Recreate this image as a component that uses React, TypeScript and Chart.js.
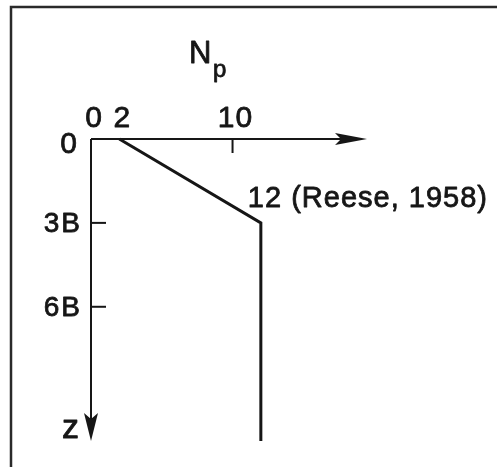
import React, { useEffect, useRef } from "react";
import { Chart, registerables } from "chart.js";

Chart.register(...registerables);

// ---- data ----
const npValues = [2, 12, 12];
const depthValues = [0, 3, 10.8];
const xTickValues = [0, 2, 10];
const xTickLabels = ["0", "2", "10"];
const xTickMarks = [10];
const zTickValues = [3, 6];
const zTickLabels = ["3B", "6B"];
const xAxisTitle = "N";
const xAxisSub = "p";
const zAxisTitle = "z";
const originLabel = "0";
const curveLabel = "12 (Reese, 1958)";
const curveLabelIndex = 1;

const INK = "#161616";
const FONT = "'Liberation Sans', Arial, sans-serif";

function heavyText(ctx: CanvasRenderingContext2D, text: string, x: number, y: number) {
  ctx.fillText(text, x, y);
  ctx.strokeText(text, x, y);
}

const diagramPlugin = {
  id: "diagram",
  beforeDraw(chart: any) {
    const ctx = chart.ctx;
    ctx.save();
    ctx.fillStyle = "#ffffff";
    ctx.fillRect(0, 0, chart.width, chart.height);
    // frame (top and left edges)
    ctx.strokeStyle = "#2a2a2a";
    ctx.lineWidth = 2.5;
    ctx.beginPath();
    ctx.moveTo(11, chart.height);
    ctx.lineTo(11, 7);
    ctx.lineTo(chart.width, 7);
    ctx.stroke();
    ctx.restore();
  },
  beforeDatasetsDraw(chart: any) {
    const ctx = chart.ctx;
    const xs = chart.scales.x;
    const ys = chart.scales.y;
    const x0 = xs.getPixelForValue(0);
    const y0 = ys.getPixelForValue(0);
    const xEnd = xs.getPixelForValue(xs.max);
    const yEnd = ys.getPixelForValue(ys.max);
    ctx.save();
    ctx.strokeStyle = INK;
    ctx.fillStyle = INK;
    ctx.lineWidth = 2;
    // horizontal axis
    ctx.beginPath();
    ctx.moveTo(x0, y0);
    ctx.lineTo(xEnd - 10, y0);
    ctx.stroke();
    ctx.beginPath();
    ctx.moveTo(xEnd, y0);
    ctx.lineTo(xEnd - 32, y0 - 6);
    ctx.lineTo(xEnd - 26, y0);
    ctx.lineTo(xEnd - 32, y0 + 6);
    ctx.closePath();
    ctx.fill();
    // vertical axis
    ctx.beginPath();
    ctx.moveTo(x0, y0);
    ctx.lineTo(x0, yEnd - 10);
    ctx.stroke();
    ctx.beginPath();
    ctx.moveTo(x0, yEnd);
    ctx.lineTo(x0 - 7, yEnd - 28);
    ctx.lineTo(x0, yEnd - 22);
    ctx.lineTo(x0 + 7, yEnd - 28);
    ctx.closePath();
    ctx.fill();
    // tick marks
    ctx.lineWidth = 2;
    xTickMarks.forEach((v) => {
      const px = xs.getPixelForValue(v);
      ctx.beginPath();
      ctx.moveTo(px, y0);
      ctx.lineTo(px, y0 + 14);
      ctx.stroke();
    });
    zTickValues.forEach((v) => {
      const py = ys.getPixelForValue(v);
      ctx.beginPath();
      ctx.moveTo(x0, py);
      ctx.lineTo(x0 + 15, py);
      ctx.stroke();
    });
    ctx.restore();
  },
  afterDraw(chart: any) {
    const ctx = chart.ctx;
    const xs = chart.scales.x;
    const ys = chart.scales.y;
    const x0 = xs.getPixelForValue(0);
    const y0 = ys.getPixelForValue(0);
    const yEnd = ys.getPixelForValue(ys.max);
    ctx.save();
    ctx.fillStyle = INK;
    ctx.strokeStyle = INK;
    ctx.lineWidth = 0.8;
    ctx.lineJoin = "round";
    ctx.textBaseline = "alphabetic";
    (ctx as any).letterSpacing = "1px";

    // x tick labels
    ctx.font = `30px ${FONT}`;
    ctx.textAlign = "center";
    xTickValues.forEach((v, i) => {
      heavyText(ctx, xTickLabels[i], xs.getPixelForValue(v) + 3, y0 - 12);
    });

    // origin label on the depth axis
    ctx.textAlign = "right";
    heavyText(ctx, originLabel, x0 - 13, y0 + 14);

    // z tick labels
    ctx.font = `28px ${FONT}`;
    (ctx as any).letterSpacing = "2px";
    ctx.textAlign = "right";
    zTickValues.forEach((v, i) => {
      heavyText(ctx, zTickLabels[i], x0 - 9, ys.getPixelForValue(v) + 9);
    });
    (ctx as any).letterSpacing = "0px";

    // axis titles
    ctx.font = `31px ${FONT}`;
    ctx.textAlign = "left";
    heavyText(ctx, xAxisTitle, 189, 63);
    ctx.font = `24px ${FONT}`;
    heavyText(ctx, xAxisSub, 213, 77);

    ctx.font = `34px ${FONT}`;
    ctx.textAlign = "right";
    heavyText(ctx, zAxisTitle, x0 - 12, yEnd - 3);

    // curve annotation
    ctx.font = `29px ${FONT}`;
    (ctx as any).letterSpacing = "1px";
    ctx.textAlign = "left";
    const bx = xs.getPixelForValue(npValues[curveLabelIndex]);
    const by = ys.getPixelForValue(depthValues[curveLabelIndex]);
    heavyText(ctx, curveLabel, bx - 13, by - 16);
    ctx.restore();
  },
};

export default function App() {
  const canvasRef = useRef<HTMLCanvasElement | null>(null);

  useEffect(() => {
    if (!canvasRef.current) return;
    const chart = new Chart(canvasRef.current, {
      type: "line",
      data: {
        datasets: [
          {
            data: npValues.map((x, i) => ({ x, y: depthValues[i] })),
            borderColor: INK,
            borderWidth: 3,
            pointRadius: 0,
            tension: 0,
            fill: false,
            clip: false as any,
            borderJoinStyle: "miter",
          },
        ],
      },
      options: {
        animation: false,
        responsive: false,
        maintainAspectRatio: false,
        devicePixelRatio: 1,
        layout: { padding: { left: 91, top: 139, right: 130, bottom: 26 } },
        plugins: {
          legend: { display: false },
          title: { display: false },
          tooltip: { enabled: false },
        },
        events: [],
        scales: {
          x: { type: "linear", min: 0, max: 19.5, display: false },
          y: { type: "linear", min: 0, max: 10.8, reverse: true, display: false },
        },
      },
      plugins: [diagramPlugin],
    });
    return () => chart.destroy();
  }, []);

  return (
    <div style={{ position: "absolute", left: 0, top: 0, width: 497, height: 467, background: "#fff" }}>
      <canvas ref={canvasRef} width={497} height={467} style={{ display: "block" }} />
    </div>
  );
}
